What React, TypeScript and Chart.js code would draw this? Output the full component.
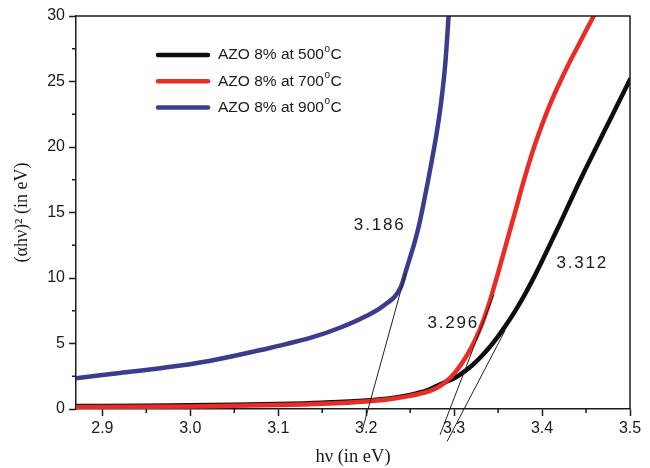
import React, { useEffect, useRef } from 'react';
import { Chart, registerables } from 'chart.js';
Chart.register(...registerables);

// ---- data ----
const hv500 = [2.87, 2.95, 3.0, 3.05, 3.1, 3.15, 3.2, 3.23, 3.25, 3.27, 3.28, 3.29, 3.3, 3.31, 3.32, 3.33, 3.34, 3.35, 3.36, 3.37, 3.38, 3.39, 3.4, 3.41, 3.42, 3.43, 3.44, 3.45, 3.46, 3.47, 3.48, 3.49, 3.5];
const ab500 = [0.22, 0.25, 0.28, 0.32, 0.38, 0.48, 0.65, 0.85, 1.08, 1.45, 1.75, 2.05, 2.35, 2.78, 3.3, 3.95, 4.7, 5.55, 6.5, 7.55, 8.7, 9.95, 11.3, 12.7, 14.1, 15.55, 17.0, 18.4, 19.75, 21.1, 22.45, 23.8, 25.15];

const hv700 = [2.87, 2.95, 3.0, 3.05, 3.1, 3.15, 3.2, 3.23, 3.25, 3.27, 3.28, 3.29, 3.3, 3.31, 3.32, 3.33, 3.34, 3.35, 3.36, 3.37, 3.38, 3.39, 3.4, 3.41, 3.42, 3.43, 3.44, 3.45, 3.46];
const ab700 = [0.15, 0.17, 0.2, 0.24, 0.3, 0.4, 0.58, 0.78, 1.0, 1.32, 1.6, 2.05, 2.7, 3.6, 4.75, 6.2, 8.1, 10.4, 12.8, 15.2, 17.6, 19.8, 21.7, 23.4, 24.9, 26.3, 27.6, 28.9, 30.15];

const hv900 = [2.87, 2.92, 2.97, 3.02, 3.08, 3.14, 3.17, 3.2, 3.22, 3.239, 3.245, 3.25, 3.255, 3.26, 3.265, 3.27, 3.275, 3.28, 3.285, 3.29, 3.294];
const ab900 = [2.35, 2.75, 3.15, 3.65, 4.5, 5.5, 6.2, 7.1, 7.9, 9.25, 10.5, 11.6, 12.7, 14.0, 15.6, 17.3, 19.1, 21.0, 23.3, 26.4, 30.3];

// tangent (band-gap extrapolation) lines
const fitHv500 = [3.358, 3.292];
const fitAb500 = [6.0, -2.48];
const fitHv700 = [3.345, 3.284];
const fitAb700 = [8.7, -1.97];
const fitHv900 = [3.245, 3.196];
const fitAb900 = [10.4, -1.5];

// band-gap annotations
const gapLabels = ['3.186', '3.296', '3.312'];
const gapLabelHv = [3.2153, 3.299, 3.4457];
const gapLabelAb = [14.05, 6.57, 11.1];

const seriesNames = ['AZO 8% at 500', 'AZO 8% at 700', 'AZO 8% at 900'];

const xMajorTicks = [2.9, 3.0, 3.1, 3.2, 3.3, 3.4, 3.5];
const xMinorTicks = [2.95, 3.05, 3.15, 3.25, 3.35, 3.45];
const yMajorTicks = [0, 5, 10, 15, 20, 25, 30];
const yMinorTicks = [2.5, 7.5, 12.5, 17.5, 22.5, 27.5];
const X_MIN = 2.87;
const X_MAX = 3.5;
const Y_MIN = 0;
const Y_MAX = 30;

const COLORS = ['#0e0e0e', '#ec2b25', '#3b3c8e'];
const AXIS = '#1c1c1c';
const SANS = "'Liberation Sans', Arial, sans-serif";
const SERIF = "'Liberation Serif', 'Times New Roman', serif";

const pts = (xs: number[], ys: number[]) => xs.map((x, i) => ({ x, y: ys[i] }));

const decorPlugin = {
  id: 'decor',
  afterDraw(chart: any) {
    const { ctx, chartArea: a, scales } = chart;
    const xs = scales.x;
    const ys = scales.y;
    ctx.save();
    // frame top + right
    ctx.strokeStyle = AXIS;
    ctx.lineWidth = 1.5;
    ctx.beginPath();
    ctx.moveTo(a.left, a.top);
    ctx.lineTo(a.right, a.top);
    ctx.lineTo(a.right, a.bottom);
    ctx.stroke();
    // minor ticks
    ctx.beginPath();
    xMinorTicks.forEach((v) => {
      const px = xs.getPixelForValue(v);
      ctx.moveTo(px, a.bottom);
      ctx.lineTo(px, a.bottom + 4);
    });
    yMinorTicks.forEach((v) => {
      const py = ys.getPixelForValue(v);
      ctx.moveTo(a.left - 4, py);
      ctx.lineTo(a.left, py);
    });
    ctx.stroke();

    // annotations
    ctx.fillStyle = '#1a1a1a';
    ctx.font = `17px ${SANS}`;
    (ctx as any).letterSpacing = '1.8px';
    ctx.textAlign = 'center';
    ctx.textBaseline = 'middle';
    gapLabels.forEach((t, i) => {
      ctx.fillText(t, xs.getPixelForValue(gapLabelHv[i]), ys.getPixelForValue(gapLabelAb[i]));
    });
    (ctx as any).letterSpacing = '0px';

    // legend
    const lx0 = a.left + 82;
    const lx1 = a.left + 132;
    const tx = a.left + 142;
    const ly0 = a.top + 39;
    const dy = 26.3;
    seriesNames.forEach((name, i) => {
      const y = ly0 + i * dy;
      ctx.strokeStyle = COLORS[i];
      ctx.lineWidth = 4.5;
      ctx.lineCap = 'round';
      ctx.beginPath();
      ctx.moveTo(lx0, y);
      ctx.lineTo(lx1, y);
      ctx.stroke();
      ctx.fillStyle = '#1a1a1a';
      ctx.textAlign = 'left';
      ctx.textBaseline = 'middle';
      ctx.font = `15.5px ${SANS}`;
      ctx.fillText(name, tx, y);
      const w = ctx.measureText(name).width;
      ctx.font = `10px ${SANS}`;
      ctx.fillText('o', tx + w + 0.5, y - 6);
      const wo = ctx.measureText('o').width;
      ctx.font = `15.5px ${SANS}`;
      ctx.fillText('C', tx + w + wo + 1, y);
    });
    ctx.restore();
  },
};

export default function App() {
  const ref = useRef<HTMLCanvasElement | null>(null);
  useEffect(() => {
    if (!ref.current) return;
    const curve = (i: number, xs: number[], ys: number[], order: number) => ({
      label: seriesNames[i],
      data: pts(xs, ys),
      borderColor: COLORS[i],
      backgroundColor: COLORS[i],
      borderWidth: 4.5,
      pointRadius: 0,
      cubicInterpolationMode: 'monotone' as const,
      order,
      borderCapStyle: 'round' as const,
    });
    const fit = (xs: number[], ys: number[]) => ({
      label: 'fit',
      data: pts(xs, ys),
      borderColor: '#222',
      borderWidth: 1,
      pointRadius: 0,
      tension: 0,
      clip: false as const,
      order: -1,
    });
    const chart = new Chart(ref.current, {
      type: 'line',
      data: {
        datasets: [
          curve(0, hv500, ab500, 1),
          curve(1, hv700, ab700, 0),
          curve(2, hv900, ab900, 2),
          fit(fitHv500, fitAb500),
          fit(fitHv700, fitAb700),
          fit(fitHv900, fitAb900),
        ],
      },
      options: {
        animation: false,
        responsive: false,
        layout: { padding: { left: 0, right: 20, top: 16, bottom: 0 } },
        plugins: { legend: { display: false }, tooltip: { enabled: false } },
        scales: {
          x: {
            type: 'linear',
            min: X_MIN,
            max: X_MAX,
            afterBuildTicks: (s: any) => {
              s.ticks = xMajorTicks.map((v) => ({ value: v }));
            },
            afterFit: (s: any) => {
              s.height = 59;
            },
            ticks: {
              callback: (v: any) => Number(v).toFixed(1),
              font: { family: SANS, size: 16 },
              color: '#1a1a1a',
              padding: 3,
              maxRotation: 0,
            },
            grid: { drawOnChartArea: false, tickLength: 7, tickColor: AXIS, tickWidth: 1.5 },
            border: { display: true, color: AXIS, width: 1.5 },
            title: {
              display: true,
              text: 'hν (in eV)',
              font: { family: SERIF, size: 18.5 },
              color: '#1a1a1a',
              padding: { top: 0, bottom: 0 },
            },
          },
          y: {
            type: 'linear',
            min: Y_MIN,
            max: Y_MAX,
            afterBuildTicks: (s: any) => {
              s.ticks = yMajorTicks.map((v) => ({ value: v }));
            },
            afterFit: (s: any) => {
              s.width = 76;
            },
            ticks: {
              callback: (v: any) => String(v),
              font: { family: SANS, size: 16 },
              color: '#1a1a1a',
              padding: 4,
            },
            grid: { drawOnChartArea: false, tickLength: 7, tickColor: AXIS, tickWidth: 1.5 },
            border: { display: true, color: AXIS, width: 1.5 },
            title: {
              display: true,
              text: '(αhν)² (in eV)',
              font: { family: SERIF, size: 18 },
              color: '#1a1a1a',
              padding: { top: 11, bottom: 0 },
            },
          },
        },
      },
      plugins: [decorPlugin],
    } as any);
    return () => chart.destroy();
  }, []);
  return (
    <div style={{ position: 'absolute', left: 0, top: 0, width: 650, height: 468, background: '#fff' }}>
      <canvas ref={ref} width={650} height={468} />
    </div>
  );
}
